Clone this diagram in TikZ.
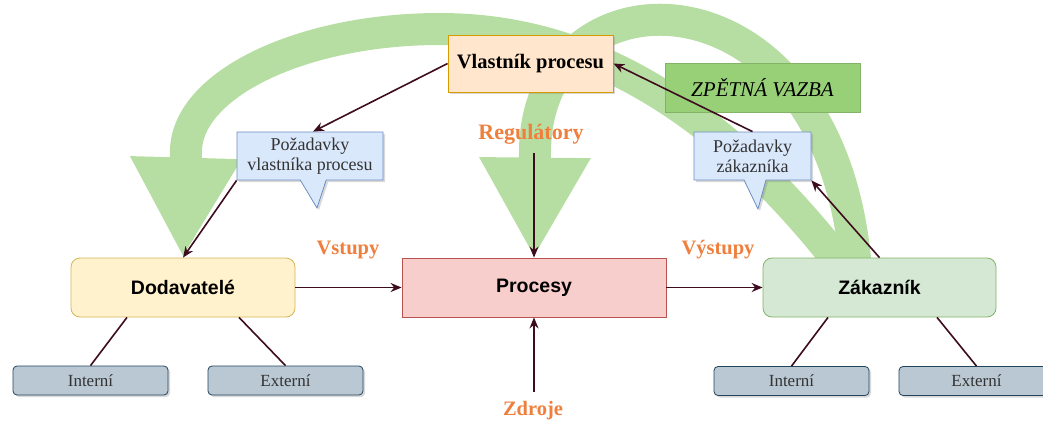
\documentclass[tikz,border=0pt]{standalone}
\usepackage{fontspec}
\setmainfont{Liberation Serif}
\setsansfont{Liberation Sans}
\usetikzlibrary{arrows.meta,shapes.callouts,shadows,backgrounds}

\definecolor{tmava}{HTML}{3D0C1E}
\definecolor{oranz}{HTML}{EE7F3D}
\definecolor{pasZ}{HTML}{B7DEA2}
\definecolor{vlF}{HTML}{FFE6CC}\definecolor{vlD}{HTML}{D79B00}
\definecolor{zvF}{HTML}{97D077}\definecolor{zvD}{HTML}{82B366}
\definecolor{bubF}{HTML}{DAE8FC}\definecolor{bubD}{HTML}{6C8EBF}
\definecolor{dodF}{HTML}{FFF2CC}\definecolor{dodD}{HTML}{D6B656}
\definecolor{proF}{HTML}{F8CECC}\definecolor{proD}{HTML}{B85450}
\definecolor{zakF}{HTML}{D5E8D4}\definecolor{zakD}{HTML}{82B366}
\definecolor{podF}{HTML}{BAC8D3}\definecolor{podD}{HTML}{23445D}

\begin{document}
\begin{tikzpicture}[x=1pt,y=-1pt,
		stin/.style={drop shadow={shadow xshift=2pt,shadow yshift=-2pt,opacity=0.3}},
		hlavni/.style={draw,line width=0.8pt,minimum height=59pt,font=\fontsize{19.5}{22}\selectfont\sffamily\bfseries},
		podbox/.style={draw=podD,fill=podF,line width=0.8pt,rounded corners=4pt,minimum width=155pt,minimum height=29pt,stin,text=black!80,font=\fontsize{17}{20}\selectfont},
		bublina/.style={rectangle callout,draw=bubD,fill=bubF,line width=0.8pt,minimum height=48pt,stin,align=center,text=black!80,font=\fontsize{18}{20}\selectfont},
		popis/.style={inner sep=0pt,text=oranz,font=\fontsize{20.5}{24}\selectfont\bfseries},
		sipka/.style={color=tmava,line width=1.6pt,-{Stealth[length=11pt,width=9pt]}},
		spoj/.style={color=tmava,line width=1.6pt},
		pas/.style={draw=pasZ,line width=32pt,-{Triangle[width=104pt,length=100pt]}}]
		\useasboundingbox (0,0) rectangle (1043,423);

		\node[draw=vlD,fill=vlF,line width=0.8pt,minimum width=165pt,minimum height=57pt,stin,font=\fontsize{20.5}{24}\selectfont\bfseries] at (530.5,63.5)(vla){Vlastník procesu};
		\node[draw=zvD,fill=zvF,line width=0.8pt,minimum width=195pt,minimum height=49pt,font=\fontsize{21}{24}\selectfont\itshape] at (762.5,87.5)(zpet){ZPĚTNÁ VAZBA};
		\node[bublina,minimum width=146pt,callout absolute pointer={(317,208)},callout pointer width=26pt] at (310,156)(poz1){Požadavky\\vlastníka procesu};
		\node[bublina,minimum width=117pt,callout absolute pointer={(758,209)},callout pointer width=22pt] at (752.5,156)(poz2){Požadavky\\zákazníka};

		\node[hlavni,draw=dodD,fill=dodF,rounded corners=9pt,minimum width=224pt] at (183,287.5)(dod){Dodavatelé};
		\node[hlavni,draw=proD,fill=proF,minimum width=264pt] at (534,287.5)(proc){Procesy};
		\node[hlavni,draw=zakD,fill=zakF,rounded corners=9pt,minimum width=233pt] at (879.5,287.5)(zak){Zákazník};

		\node[podbox] at (90.5,380.5)(int1){Interní};
		\node[podbox] at (285.5,380.5)(ext1){Externí};
		\node[podbox] at (791.5,381)(int2){Interní};
		\node[podbox] at (976.5,381)(ext2){Externí};

		\node[popis,font=\fontsize{22}{24}\selectfont\bfseries] at (531,134)(reg){Regulátory};
		\node[popis] at (533,411)(zdr){Zdroje};
		\node[popis] at (348,250)(vst){Vstupy};
		\node[popis] at (718,250)(vys){Výstupy};

		% zpetna vazba
		\begin{scope}[on background layer]
			\draw[pas]([xshift=-23.5pt,yshift=-12pt]zak.north) .. controls (832,-40) and (538,-40) .. (535,150) -- (proc.north);
			\draw[pas]([xshift=-33pt,yshift=-14pt]zak.north) .. controls (700,80) and (560,29) .. (440,29) .. controls (302,29) and (188,84) .. (186,150) -- (dod.north);
		\end{scope}

		\path[sipka](dod)edge(proc)(proc)edge(zak)(vla.west)edge([xshift=3pt]poz1.north)(poz1.south west)edge(dod.north)(zak.north)edge(poz2.south east)(poz2.north)edge(vla.east);
		\draw[sipka,shorten <=9pt](reg.south -| proc.north)--(proc.north);
		\draw[sipka,shorten <=10pt](zdr.north -| proc.south)--(proc.south);
		\path[spoj]([xshift=-56pt]dod.south)edge(int1.north)([xshift=56pt]dod.south)edge(ext1.north)([xshift=-51.5pt]zak.south)edge(int2.north)([xshift=57.5pt]zak.south)edge(ext2.north);
	\end{tikzpicture}
\end{document}
